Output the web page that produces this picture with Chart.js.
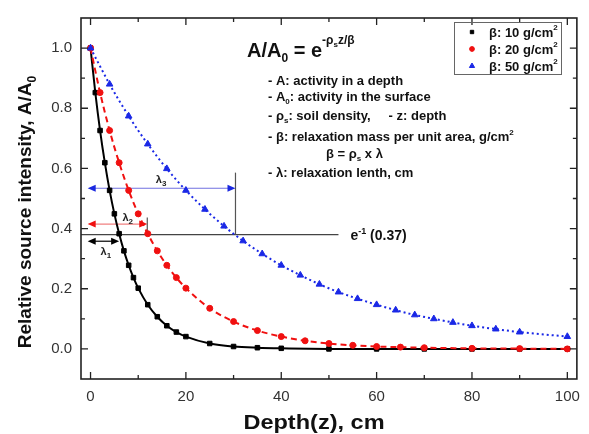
<!DOCTYPE html>
<html><head><meta charset="utf-8">
<script src="https://cdn.jsdelivr.net/npm/chart.js@4.4.1/dist/chart.umd.min.js"></script>
<style>html,body{margin:0;padding:0;background:#fff}#wrap{width:589px;height:434px}</style>
</head><body><div id="wrap"><canvas id="c" width="589" height="434"></canvas></div>
<script>
// ---- data ----
const xTicks = [0, 20, 40, 60, 80, 100];
const yTicks = [0.0, 0.2, 0.4, 0.6, 0.8, 1.0];
const xMinorTicks = [10, 30, 50, 70, 90];
const yMinorTicks = [0.1, 0.3, 0.5, 0.7, 0.9];

const depth10 = [0,1,2,3,4,5,6,7,8,9,10,12,14,16,18,20,25,30,35,40,50,60,70,80,90,100];
const val10   = [1.000,0.852,0.726,0.619,0.527,0.449,0.383,0.326,0.278,0.237,0.202,0.147,0.107,0.077,0.056,0.041,0.018,0.008,0.004,0.002,0.000,0.000,0.000,0.000,0.000,0.000];
const depth20 = [0,2,4,6,8,10,12,14,16,18,20,25,30,35,40,45,50,55,60,65,70,80,90,100];
const val20   = [1.000,0.852,0.726,0.619,0.527,0.449,0.383,0.326,0.278,0.237,0.202,0.135,0.091,0.061,0.041,0.027,0.018,0.012,0.008,0.006,0.004,0.002,0.001,0.000];
const depth50 = [0,4,8,12,16,20,24,28,32,36,40,44,48,52,56,60,64,68,72,76,80,85,90,100];
const val50   = [1.000,0.880,0.774,0.681,0.599,0.527,0.464,0.408,0.359,0.316,0.278,0.245,0.215,0.189,0.167,0.147,0.129,0.113,0.100,0.088,0.077,0.066,0.056,0.041];
const seriesLabels = ['β: 10 g/cm²', 'β: 20 g/cm²', 'β: 50 g/cm²'];

// annotation values (data units)
const eLevel = 0.38;          // e^-1 reference line
const eLineEnd = 52;          // depth where the e^-1 line ends
const lambdaEnds = [6, 11.9, 30.4];
const lambdaLevels = [0.358, 0.415, 0.534];
const lambdaTops = [null, 0.437, 0.586];
const arrowStart = -0.6;

const FONT = '"Liberation Sans", Arial, Helvetica, sans-serif';

function pts(xs, ys) { return xs.map((x, i) => ({ x: x, y: ys[i] })); }

function rich(ctx, x, y, parts, align) {
  let w = 0;
  parts.forEach(p => { ctx.font = 'bold ' + p[1] + 'px ' + FONT; w += ctx.measureText(p[0]).width; });
  let cx = align === 'center' ? x - w / 2 : (align === 'right' ? x - w : x);
  ctx.textAlign = 'left';
  parts.forEach(p => {
    ctx.font = 'bold ' + p[1] + 'px ' + FONT;
    ctx.fillText(p[0], cx, y + (p[2] || 0));
    cx += ctx.measureText(p[0]).width;
  });
}

function arrowHead(ctx, x, y, dir, color) {
  ctx.fillStyle = color;
  ctx.beginPath();
  ctx.moveTo(x, y);
  ctx.lineTo(x - dir * 8, y - 3.5);
  ctx.lineTo(x - dir * 8, y + 3.5);
  ctx.closePath();
  ctx.fill();
}

function dblArrow(ctx, x1, x2, y, lineColor, headColor) {
  ctx.strokeStyle = lineColor; ctx.lineWidth = 1.2;
  ctx.beginPath(); ctx.moveTo(x1 + 4, y); ctx.lineTo(x2 - 4, y); ctx.stroke();
  arrowHead(ctx, x1, y, -1, headColor);
  arrowHead(ctx, x2, y, 1, headColor);
}

const decor = {
  id: 'decor',
  beforeDatasetsDraw(chart) {
    const { ctx, chartArea: a, scales: { x, y } } = chart;
    ctx.save();
    ctx.strokeStyle = '#444'; ctx.lineWidth = 1.2;
    const ey = y.getPixelForValue(eLevel);
    ctx.beginPath(); ctx.moveTo(a.left, ey); ctx.lineTo(x.getPixelForValue(eLineEnd), ey); ctx.stroke();
    lambdaTops.forEach((t, i) => {
      if (t === null) return;
      const px = x.getPixelForValue(lambdaEnds[i]);
      ctx.strokeStyle = '#555'; ctx.lineWidth = 1.2;
      ctx.beginPath(); ctx.moveTo(px, y.getPixelForValue(t)); ctx.lineTo(px, ey); ctx.stroke();
    });
    const cols = [['#000', '#000'], ['#f08080', '#f01010'], ['#7070e0', '#1a28e0']];
    lambdaLevels.forEach((lv, i) => {
      dblArrow(ctx, x.getPixelForValue(arrowStart), x.getPixelForValue(lambdaEnds[i]), y.getPixelForValue(lv), cols[i][0], cols[i][1]);
    });
    ctx.restore();
  },
  afterDraw(chart) {
    const { ctx, chartArea: a, scales: { x, y } } = chart;
    ctx.save();
    ctx.strokeStyle = '#222'; ctx.lineWidth = 1.6;
    ctx.strokeRect(a.left, a.top, a.right - a.left, a.bottom - a.top);
    ctx.lineWidth = 1.3;
    const tk = (vals, len) => {
      vals.forEach(v => {
        const px = x.getPixelForValue(v);
        ctx.beginPath();
        ctx.moveTo(px, a.bottom); ctx.lineTo(px, a.bottom - len);
        ctx.moveTo(px, a.top); ctx.lineTo(px, a.top + len);
        ctx.stroke();
      });
    };
    const tky = (vals, len) => {
      vals.forEach(v => {
        const py = y.getPixelForValue(v);
        ctx.beginPath();
        ctx.moveTo(a.left, py); ctx.lineTo(a.left + len, py);
        ctx.moveTo(a.right, py); ctx.lineTo(a.right - len, py);
        ctx.stroke();
      });
    };
    tk(xTicks, 7); tk(xMinorTicks, 4); tky(yTicks, 7); tky(yMinorTicks, 4);

    ctx.fillStyle = '#111';
    ctx.textBaseline = 'alphabetic';
    // x title (slightly wide, as in the reference)
    ctx.save();
    ctx.translate(314, 429);
    ctx.scale(1.12, 1);
    rich(ctx, 0, 0, [['Depth(z), cm', 21]], 'center');
    ctx.restore();
    // y title
    ctx.save();
    ctx.translate(31, 212);
    ctx.rotate(-Math.PI / 2);
    rich(ctx, 0, 0, [['Relative source intensity, A/A', 19], ['0', 12, 5]], 'center');
    ctx.restore();

    ctx.fillStyle = '#222';
    rich(ctx, x.getPixelForValue(3.2), y.getPixelForValue(lambdaLevels[0]) + 14, [['λ', 11], ['1', 8, 3]], 'center');
    rich(ctx, x.getPixelForValue(7.8), y.getPixelForValue(lambdaLevels[1]) - 3, [['λ', 11], ['2', 8, 3]], 'center');
    rich(ctx, x.getPixelForValue(14.8), y.getPixelForValue(lambdaLevels[2]) - 5, [['λ', 11], ['3', 8, 3]], 'center');
    ctx.fillStyle = '#111';
    const ey = y.getPixelForValue(eLevel);
    rich(ctx, x.getPixelForValue(54.5), ey + 5, [['e', 14], ['-1', 9, -6], [' (0.37)', 14]], 'left');

    // formula
    rich(ctx, 247, 57, [['A/A', 20], ['0', 12, 5], [' = e', 20], ['-ρ', 12, -13], ['s', 8, -10], ['z/β', 12, -13]], 'left');
    // description
    const L = 268;
    const F = 13;
    rich(ctx, L, 85, [['- A: activity in a depth', F]]);
    rich(ctx, L, 101, [['- A', F], ['0', 8, 3], [': activity in the surface', F]]);
    rich(ctx, L, 120, [['- ρ', F], ['s', 8, 3], [': soil density,     - z: depth', F]]);
    rich(ctx, L, 141, [['- β: relaxation mass per unit area, g/cm', F], ['2', 8, -6]]);
    rich(ctx, 326, 158, [['β = ρ', F], ['s', 8, 3], [' x λ', F]]);
    rich(ctx, L, 177, [['- λ: relaxation lenth, cm', F]]);

    // legend
    ctx.strokeStyle = '#666'; ctx.lineWidth = 1;
    ctx.strokeRect(454.5, 22.5, 107, 52);
    const rows = [32, 49, 66];
    chart.data.datasets.forEach((ds, i) => {
      ctx.fillStyle = ds.backgroundColor; ctx.strokeStyle = ds.borderColor; ctx.lineWidth = 1;
      Chart.helpers.drawPoint(ctx, { pointStyle: ds.pointStyle, radius: ds.pointStyle === 'triangle' ? 3 : 2.4, rotation: 0, borderWidth: 1 }, 472, rows[i]);
      ctx.fillStyle = '#111';
      ctx.textBaseline = 'middle';
      rich(ctx, 489, rows[i] + 1, [[ds.label.replace('²', ''), 13], ['2', 8, -5]]);
      ctx.textBaseline = 'alphabetic';
    });
    ctx.restore();
  }
};

const common = { showLine: true, cubicInterpolationMode: 'monotone', borderWidth: 2, pointBorderWidth: 1 };

new Chart(document.getElementById('c'), {
  type: 'line',
  data: {
    datasets: [
      Object.assign({ label: seriesLabels[0], data: pts(depth10, val10), borderColor: '#000', backgroundColor: '#000', pointStyle: 'rect', pointRadius: 3.2, order: 2 }, common),
      Object.assign({ label: seriesLabels[1], data: pts(depth20, val20), borderColor: '#f01010', backgroundColor: '#f01010', pointStyle: 'circle', pointRadius: 3, borderDash: [6, 4], order: 1 }, common),
      Object.assign({ label: seriesLabels[2], data: pts(depth50, val50), borderColor: '#1a28e6', backgroundColor: '#1a28e6', pointStyle: 'triangle', pointRadius: 3.8, borderDash: [2, 3], order: 0 }, common)
    ]
  },
  options: {
    responsive: false, animation: false, devicePixelRatio: 1,
    layout: { padding: { top: 12, right: 8, left: 0, bottom: 0 } },
    plugins: { legend: { display: false }, tooltip: { enabled: false } },
    scales: {
      x: {
        type: 'linear', min: -2, max: 102,
        afterBuildTicks: s => { s.ticks = xTicks.map(v => ({ value: v })); },
        afterFit: s => { s.height = 55; },
        grid: { display: false, drawTicks: false }, border: { display: false },
        ticks: { padding: 9, color: '#333', font: { family: FONT, size: 15 }, callback: v => String(v) }
      },
      y: {
        type: 'linear', min: -0.1, max: 1.1,
        afterBuildTicks: s => { s.ticks = yTicks.map(v => ({ value: v })); },
        afterFit: s => { s.width = 81; },
        grid: { display: false, drawTicks: false }, border: { display: false },
        ticks: { padding: 9, color: '#333', font: { family: FONT, size: 15 }, callback: v => Number(v).toFixed(1) }
      }
    }
  },
  plugins: [decor]
});
</script>
</body></html>
